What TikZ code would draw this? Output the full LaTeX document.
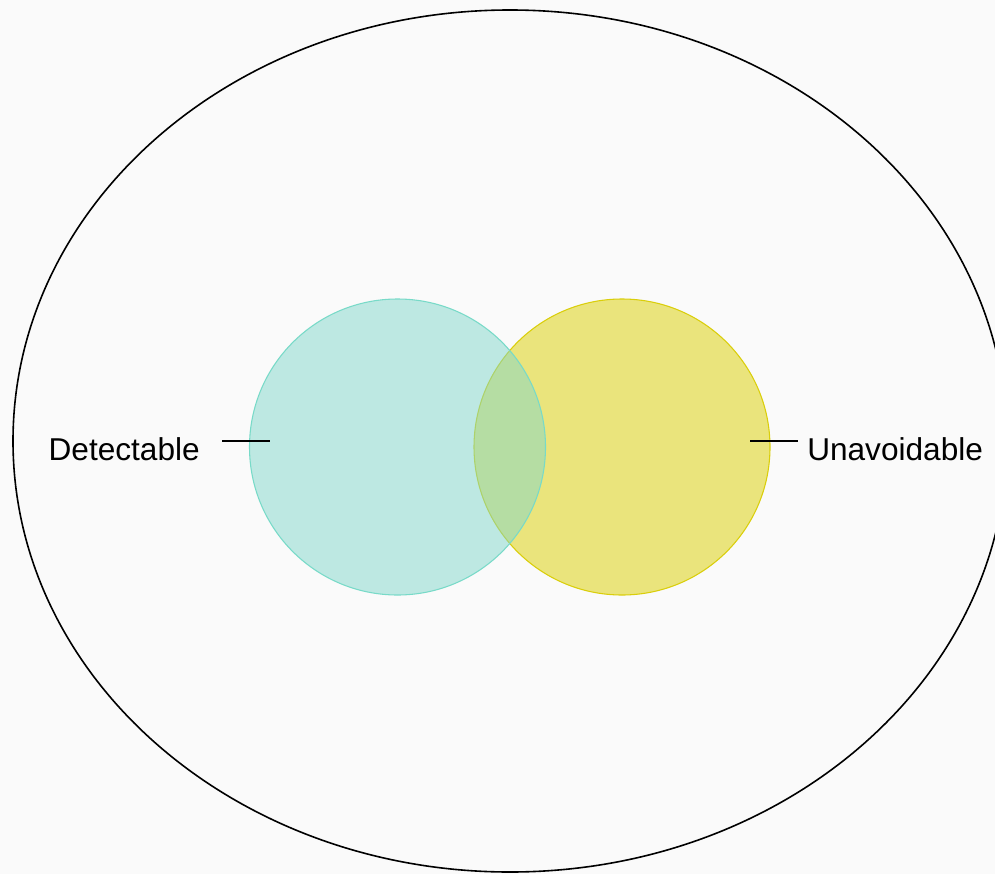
\documentclass[tikz,border=0pt]{standalone}
\usepackage{fontspec}
\setmainfont{Liberation Sans}
\usepackage{tikz}
\usetikzlibrary{positioning}
\usepackage{xcolor}
\definecolor{bgpaper}{RGB}{250,250,250}
\definecolor{tealfill}{RGB}{129,215,203}
\definecolor{tealline}{RGB}{120,218,200}
\definecolor{yelfill}{RGB}{234,228,124}
\definecolor{yelline}{RGB}{218,206,10}

\begin{document}
\begin{tikzpicture}[x=0.75pt,y=-0.75pt,
  setcirc/.style={circle,minimum size=222pt,inner sep=0pt,line width=0.8pt},
  lbl/.style={font=\fontsize{23.7}{28}\selectfont,inner sep=0pt},
  tick/.style={line width=1.2pt}]
\fill[bgpaper] (0,0) rectangle (995,874);
\useasboundingbox (0,0) rectangle (995,874);
% outer set
\draw[line width=1.2pt] (510,441) ellipse [x radius=497, y radius=431];
% the two sets
\node (unav) [setcirc,draw=yelline,fill=yelfill] at (622,447) {};
\node (det) [setcirc,draw=tealline,fill=tealfill,fill opacity=0.5] at (397.5,447) {};
% labels
\node (detlbl) [lbl,anchor=base east] at (200,460) {Detectable};
\node (unavlbl) [lbl,anchor=base west] at (807,460) {Unavoidable};
\coordinate (dl1) at (222,441);
\coordinate (dl2) at (270,441);
\coordinate (ul1) at (750,441);
\coordinate (ul2) at (798,441);
\draw[tick] (dl1) -- (dl2);
\draw[tick] (ul1) -- (ul2);
\end{tikzpicture}
\end{document}
